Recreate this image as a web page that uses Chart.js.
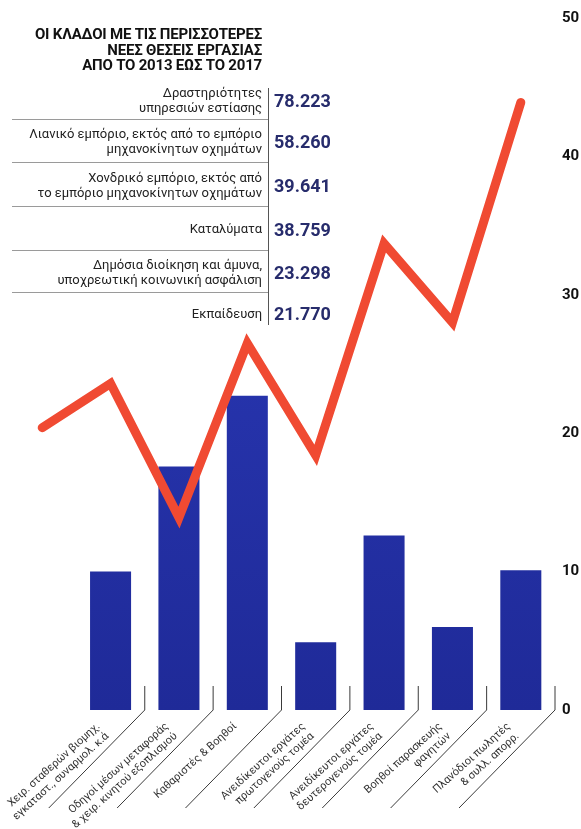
<!DOCTYPE html>
<html lang="el">
<head>
<meta charset="utf-8">
<title>Οι κλάδοι με τις περισσότερες νέες θέσεις εργασίας</title>
<script src="https://cdn.jsdelivr.net/npm/chart.js@4"></script>
<style>
    body { margin: 0; background: #fff; font-family: Roboto, "Noto Sans", sans-serif; }
    #wrap { position: relative; width: 581px; height: 829px; }
    #title {
        position: absolute; left: 0; top: 27px; width: 262px;
        text-align: right; font-weight: 700; font-size: 15px; line-height: 15.5px;
        color: #111; letter-spacing: -0.2px;
    }
    #table { position: absolute; left: 12px; top: 81px; width: 330px; }
    .row { display: flex; align-items: center; }
    .row .lbl {
        padding-right: 6px; text-align: right;
        font-size: 13px; line-height: 15px; color: #222;
        border-bottom: 1px solid #9a9a9a; height: 100%;
        display: flex; align-items: center; justify-content: flex-end;
        box-sizing: border-box; width: 256px;
    }
    .row:last-child .lbl { border-bottom: none; }
    .row .val {
        padding-left: 6px; font-size: 18px; font-weight: 700; color: #272c6c;
    }
    #vline { position: absolute; left: 268px; top: 88px; width: 1px; height: 237px; background: #555; }
</style>
</head>
<body>
<div id="wrap">
    <canvas id="myChart"></canvas>
    <div id="title">ΟΙ ΚΛΑΔΟΙ ΜΕ ΤΙΣ ΠΕΡΙΣΣΟΤΕΡΕΣ<br>ΝΕΕΣ ΘΕΣΕΙΣ ΕΡΓΑΣΙΑΣ<br>ΑΠΟ ΤΟ 2013 ΕΩΣ ΤΟ 2017</div>
    <div id="table"></div>
    <div id="vline"></div>
</div>
<script>
// occupations on the x axis (bars)
const categories = [
    ["Χειρ. σταθερών βιομηχ.", "εγκαταστ., συναρμολ. κ.ά"],
    ["Οδηγοί μέσων μεταφοράς", "& χειρ. κινητού εξοπλισμού"],
    "Καθαριστές & Βοηθοί",
    ["Ανειδίκευτοι εργάτες", "πρωτογενούς τομέα"],
    ["Ανειδίκευτοι εργάτες", "δευτερογενούς τομέα"],
    ["Βοηθοί παρασκευής", "φαγητών"],
    ["Πλανόδιοι πωλητές", "& συλλ. απορρ."]
];
const barValues = [10.0, 17.6, 22.7, 4.9, 12.6, 6.0, 10.1];

// red trend line, one point more than the bars (starts left of the first bar)
const lineValues = [20.4, 23.6, 13.9, 26.5, 18.4, 33.7, 28.0, 43.9];

const yTicks = [0, 10, 20, 30, 40, 50];

// sectors table
const sectorNames = [
    ["Δραστηριότητες", "υπηρεσιών εστίασης"],
    ["Λιανικό εμπόριο, εκτός από το εμπόριο", "μηχανοκίνητων οχημάτων"],
    ["Χονδρικό εμπόριο, εκτός από", "το εμπόριο μηχανοκίνητων οχημάτων"],
    ["Καταλύματα"],
    ["Δημόσια διοίκηση και άμυνα,", "υποχρεωτική κοινωνική ασφάλιση"],
    ["Εκπαίδευση"]
];
const sectorJobs = [78223, 58260, 39641, 38759, 23298, 21770];
const rowHeights = [39, 43, 44, 44, 42, 40];

function fmt(n) {
    return n.toString().replace(/\B(?=(\d{3})+(?!\d))/g, ".");
}

const table = document.getElementById("table");
for (let i = 0; i < sectorNames.length; i++) {
    const row = document.createElement("div");
    row.className = "row";
    row.style.height = rowHeights[i] + "px";
    const lbl = document.createElement("div");
    lbl.className = "lbl";
    const inner = document.createElement("div");
    inner.innerHTML = sectorNames[i].join("<br>");
    lbl.appendChild(inner);
    const val = document.createElement("div");
    val.className = "val";
    val.innerText = fmt(sectorJobs[i]);
    row.appendChild(lbl);
    row.appendChild(val);
    table.appendChild(row);
}

// small boundary ticks with slanted leader lines under the labels
const leaderLines = {
    id: "leaderLines",
    afterDraw(chart) {
        const x = chart.scales.x;
        const y0 = chart.scales.y.getPixelForValue(0);
        const half = (x.getPixelForValue(1) - x.getPixelForValue(0)) / 2;
        const c = chart.ctx;
        c.save();
        c.strokeStyle = "#3a3a3a";
        c.lineWidth = 1;
        for (let i = 1; i <= categories.length; i++) {
            const bx = x.getPixelForValue(i) + half;
            c.beginPath();
            c.moveTo(bx, y0 - 24);
            c.lineTo(bx, y0);
            c.lineTo(bx - 96, y0 + 98);
            c.stroke();
        }
        c.restore();
    }
};

const ctx = document.getElementById("myChart").getContext("2d");
const myChart = new Chart(ctx, {
    data: {
        labels: [""].concat(categories),
        datasets: [{
            type: "line",
            data: lineValues,
            borderColor: "#f04a32",
            borderWidth: 9,
            borderCapStyle: "round",
            borderJoinStyle: "miter",
            pointRadius: 0,
            tension: 0,
            order: 0
        }, {
            type: "bar",
            data: [null].concat(barValues),
            backgroundColor: function (context) {
                const area = context.chart.chartArea;
                if (!area) return "#2333a8";
                const g = context.chart.ctx.createLinearGradient(0, area.top, 0, area.bottom);
                g.addColorStop(0, "#2d3dc0");
                g.addColorStop(1, "#1f2a98");
                return g;
            },
            barPercentage: 0.6,
            categoryPercentage: 1,
            order: 1
        }]
    },
    options: {
        responsive: true,
        maintainAspectRatio: false,
        animation: false,
        layout: { padding: { top: 18, left: 8, right: 0, bottom: 0 } },
        plugins: { legend: { display: false }, tooltip: { enabled: false } },
        scales: {
            x: {
                offset: true,
                grid: { display: false },
                border: { display: false },
                ticks: {
                    minRotation: 42,
                    maxRotation: 42,
                    autoSkip: false,
                    padding: 2,
                    labelOffset: -12,
                    color: "#333",
                    font: { family: "Roboto", size: 11 }
                },
                afterFit: function (scale) { scale.height = 119; }
            },
            y: {
                position: "right",
                min: 0,
                max: 50,
                afterBuildTicks: function (scale) {
                    scale.ticks = yTicks.map(function (v) { return { value: v }; });
                },
                grid: { display: false, drawTicks: false },
                border: { display: false },
                ticks: {
                    padding: 7,
                    color: "#111",
                    font: { family: "Roboto", size: 15, weight: "bold" }
                },
                afterFit: function (scale) { scale.width = 26; }
            }
        }
    },
    plugins: [leaderLines]
});
</script>
</body>
</html>
